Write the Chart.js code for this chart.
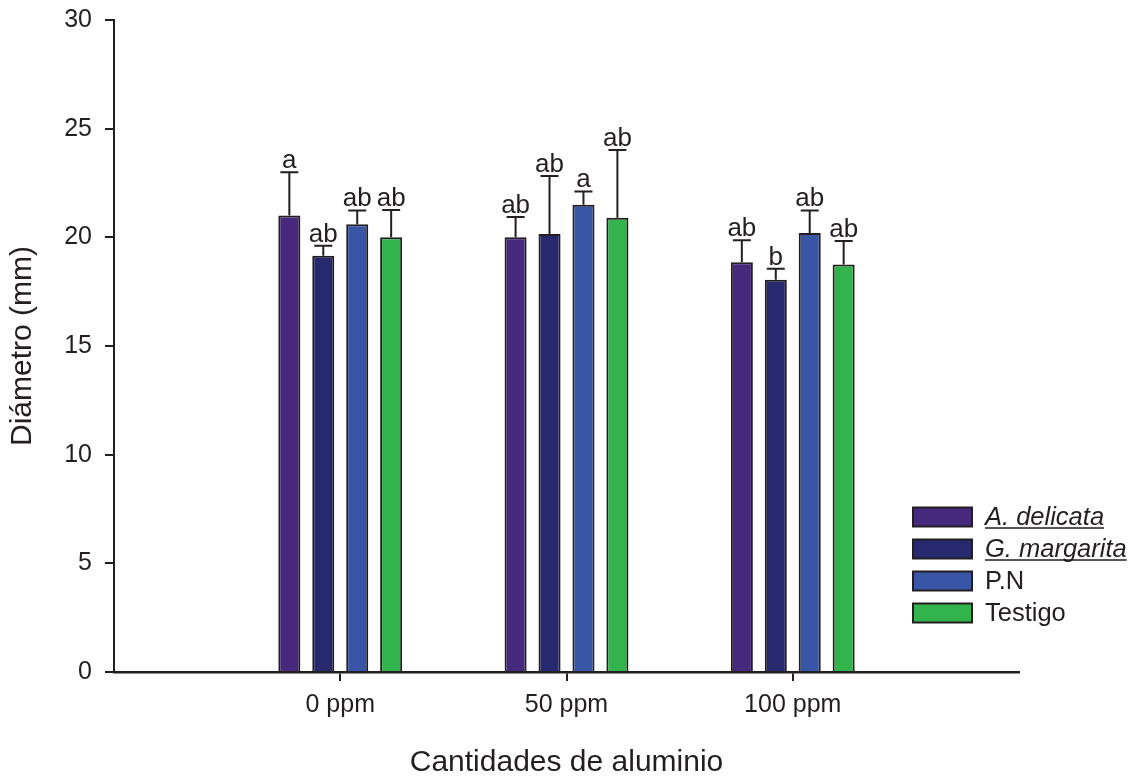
<!DOCTYPE html>
<html lang="es">
<head>
<meta charset="utf-8">
<title>Diámetro según cantidades de aluminio</title>
<script src="https://cdn.jsdelivr.net/npm/chart.js@4/dist/chart.umd.min.js"></script>
<style>
  html, body { margin: 0; padding: 0; background: #fff; overflow: hidden; }
  canvas { display: block; }
</style>
</head>
<body>
<canvas id="chart" width="1137" height="778"></canvas>
<script>
// Aluminium doses on the x axis
const categories = ['0 ppm', '50 ppm', '100 ppm'];

// Mean stem diameter (mm) per treatment
const aDelicata   = [21.0, 20.0, 18.85];
const gMargarita  = [19.15, 20.15, 18.05];
const pN          = [20.6, 21.5, 20.2];
const testigo     = [20.0, 20.9, 18.75];

// Upper error (mm) per treatment
const aDelicataErr  = [2.0, 0.93, 1.02];
const gMargaritaErr = [0.46, 2.67, 0.5];
const pNErr         = [0.64, 0.61, 1.04];
const testigoErr    = [1.26, 3.12, 1.08];

// Significance letters
const aDelicataSig  = ['a', 'ab', 'ab'];
const gMargaritaSig = ['ab', 'ab', 'b'];
const pNSig         = ['ab', 'a', 'ab'];
const testigoSig    = ['ab', 'ab', 'ab'];

// Y axis ticks
const yTicks = [0, 5, 10, 15, 20, 25, 30];

const INK = '#231f20';
const FONT = "'Liberation Sans', Arial, Helvetica, sans-serif";

// The x axis runs one empty slot beyond each end of the doses
const pad = arr => [null, ...arr, null];
const xLabels = ['', ...categories, ''];

const series = [
  { label: 'A. delicata',  data: aDelicata,  err: aDelicataErr,  sig: aDelicataSig,  color: '#46287c', italic: true },
  { label: 'G. margarita', data: gMargarita, err: gMargaritaErr, sig: gMargaritaSig, color: '#27296f', italic: true },
  { label: 'P.N',          data: pN,         err: pNErr,         sig: pNSig,         color: '#3955a6', italic: false },
  { label: 'Testigo',      data: testigo,    err: testigoErr,    sig: testigoSig,    color: '#31b44b', italic: false }
];

// Upper error bars with caps, plus letters above them
const errorBars = {
  id: 'errorBars',
  afterDatasetsDraw(chart) {
    const { ctx } = chart;
    const y = chart.scales.y;
    ctx.save();
    ctx.strokeStyle = INK;
    ctx.fillStyle = INK;
    ctx.lineWidth = 2;
    ctx.font = '26px ' + FONT;
    ctx.textAlign = 'center';
    ctx.textBaseline = 'alphabetic';
    chart.data.datasets.forEach((ds, di) => {
      const meta = chart.getDatasetMeta(di);
      meta.data.forEach((bar, i) => {
        const v = ds.data[i];
        if (v === null || v === undefined) return;
        const top = y.getPixelForValue(v + ds.err[i]);
        const base = y.getPixelForValue(v);
        ctx.beginPath();
        ctx.moveTo(bar.x, base);
        ctx.lineTo(bar.x, top);
        ctx.moveTo(bar.x - 9, top);
        ctx.lineTo(bar.x + 9, top);
        ctx.stroke();
        ctx.fillText(ds.sig[i], bar.x, top - 4);
      });
    });
    ctx.restore();
  }
};

// Legend block at the lower right, species names italic and underlined
const sideLegend = {
  id: 'sideLegend',
  afterDraw(chart) {
    const { ctx } = chart;
    const x0 = 913, y0 = 517, rowGap = 32, boxW = 59, boxH = 19, textX = 985;
    ctx.save();
    chart.data.datasets.forEach((ds, i) => {
      const cy = y0 + i * rowGap;
      ctx.fillStyle = ds.backgroundColor;
      ctx.fillRect(x0, cy - boxH / 2, boxW, boxH);
      ctx.strokeStyle = INK;
      ctx.lineWidth = 2;
      ctx.strokeRect(x0, cy - boxH / 2, boxW, boxH);
      ctx.fillStyle = INK;
      ctx.font = (ds.italic ? 'italic ' : '') + '25.5px ' + FONT;
      ctx.textAlign = 'left';
      ctx.textBaseline = 'alphabetic';
      const baseY = cy + 8;
      ctx.fillText(ds.label, textX, baseY);
      if (ds.italic) {
        const w = ctx.measureText(ds.label).width;
        ctx.lineWidth = 1.5;
        ctx.beginPath();
        ctx.moveTo(textX, baseY + 3);
        ctx.lineTo(textX + w, baseY + 3);
        ctx.stroke();
      }
    });
    ctx.restore();
  }
};

new Chart(document.getElementById('chart'), {
  type: 'bar',
  data: {
    labels: xLabels,
    datasets: series.map(s => ({
      label: s.label,
      data: pad(s.data),
      err: pad(s.err),
      sig: pad(s.sig),
      italic: s.italic,
      backgroundColor: s.color,
      borderColor: INK,
      borderWidth: 2,
      borderSkipped: 'start',
      categoryPercentage: 0.6,
      barPercentage: 0.65
    }))
  },
  options: {
    responsive: false,
    devicePixelRatio: 1,
    animation: false,
    events: [],
    layout: { padding: { top: 20, right: 118, bottom: 0, left: 0 } },
    plugins: {
      legend: { display: false },
      tooltip: { enabled: false }
    },
    scales: {
      x: {
        type: 'category',
        offset: false,
        z: 1,
        grid: {
          offset: false,
          drawOnChartArea: false,
          drawTicks: true,
          tickLength: 9,
          lineWidth: 2,
          color: ctx => (ctx.index === 0 || ctx.index === xLabels.length - 1) ? 'rgba(0,0,0,0)' : INK
        },
        border: { display: true, color: INK, width: 2.5 },
        ticks: {
          autoSkip: false,
          maxRotation: 0,
          padding: 9,
          color: INK,
          font: { family: FONT, size: 25 }
        },
        title: {
          display: true,
          text: 'Cantidades de aluminio',
          color: INK,
          font: { family: FONT, size: 30, lineHeight: 1 },
          padding: { top: 0, bottom: 0 }
        },
        afterFit(scale) {
          scale.height = 106;
          scale.paddingLeft = 0;
          scale.paddingRight = 0;
        }
      },
      y: {
        min: 0,
        max: 30,
        z: 1,
        afterBuildTicks(scale) { scale.ticks = yTicks.map(v => ({ value: v })); },
        grid: {
          drawOnChartArea: false,
          drawTicks: true,
          tickLength: 9,
          lineWidth: 2,
          color: INK
        },
        border: { display: true, color: INK, width: 2 },
        ticks: {
          padding: 13,
          color: INK,
          font: { family: FONT, size: 25 }
        },
        title: {
          display: true,
          text: 'Diámetro (mm)',
          color: INK,
          font: { family: FONT, size: 30, lineHeight: 1 },
          padding: { top: 8, bottom: 0 }
        },
        afterFit(scale) {
          scale.width = 114;
          scale.paddingTop = 0;
          scale.paddingBottom = 0;
        }
      }
    }
  },
  plugins: [errorBars, sideLegend]
});
</script>
</body>
</html>
